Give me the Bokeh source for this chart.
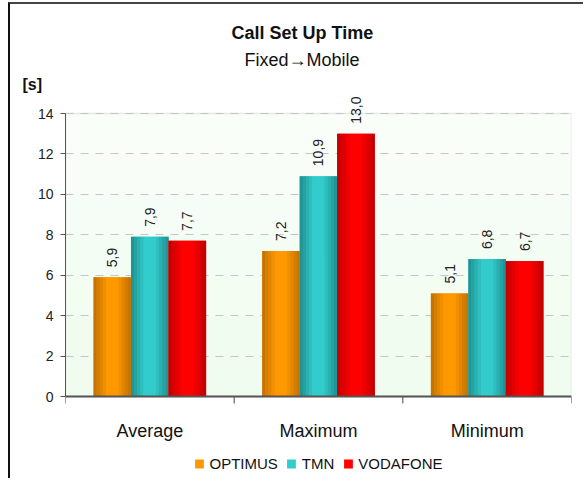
from bokeh.plotting import figure
from bokeh.models import (ColumnDataSource, Range1d, FixedTicker, LabelSet, Title,
                          Legend, LegendItem, BoxAnnotation, Span)
from bokeh.transform import dodge
from bokeh.core.properties import value
from bokeh.embed import file_html
from bokeh.resources import INLINE

# ---- data ----
categories = ["Average", "Maximum", "Minimum"]
series = ["OPTIMUS", "TMN", "VODAFONE"]
optimus = [5.9, 7.2, 5.1]
tmn = [7.9, 10.9, 6.8]
vodafone = [7.7, 13.0, 6.7]
y_ticks = [0, 2, 4, 6, 8, 10, 12, 14]
title_text = "Call Set Up Time"
subtitle_text = "Fixed\u2192Mobile"
unit_text = "[s]"

# ---- styles / layout ----
FONT = "Liberation Sans"
light = ["#ff9900", "#33cccc", "#ff0000"]
dark = ["#bf6f00", "#1e8e8e", "#bf0000"]
BAR_W = 0.2222
N_STRIPS = 12
FRAME_H = 387
Y_TOP = 14.99      # headroom so the tallest value label stays visible
Y_BOTTOM = -4.155  # room under the baseline for category labels and legend
PX_PER_UNIT = FRAME_H / (Y_TOP - Y_BOTTOM)
TICK_LEN = 7 / PX_PER_UNIT


def mix(c1, c2, t):
    a = [int(c1[i:i + 2], 16) for i in (1, 3, 5)]
    b = [int(c2[i:i + 2], 16) for i in (1, 3, 5)]
    return "#" + "".join(f"{int(round(x + (y - x) * t)):02x}" for x, y in zip(a, b))


def profile(u):
    if u < 0.38:
        return u / 0.38
    if u > 0.62:
        return (1 - u) / 0.38
    return 1.0


values = [optimus, tmn, vodafone]
keys = ["optimus", "tmn", "vodafone"]
xc = [i + 0.5 for i in range(len(categories))]
data = {"xc": xc, "cat": categories, "zero": [0] * len(categories)}
for si, (k, vals) in enumerate(zip(keys, values)):
    off = (si - 1) * BAR_W
    data[k] = vals
    data[k + "_x"] = [x + off for x in xc]
    data[k + "_lbl"] = [f"{v:.1f}".replace(".", ",") for v in vals]
src = ColumnDataSource(data)
bounds = list(range(len(categories) + 1))

p = figure(width=575, height=476, title=None, x_axis_location=None,
           min_border_left=55, min_border_right=14, min_border_top=476 - FRAME_H,
           min_border_bottom=0,
           x_range=Range1d(0, len(categories)), y_range=Range1d(Y_BOTTOM, Y_TOP),
           output_backend="svg", toolbar_location=None)
p.styles = {"border-left": "2px solid #111111", "border-top": "2px solid #444444",
            "position": "relative", "left": "8px", "top": "2px"}
p.background_fill_color = "white"
p.border_fill_color = "white"
p.outline_line_color = None

# plot-area background (0..14): soft vertical gradient in bands, grey edge
n_b = len(y_ticks) - 1
for i in range(n_b):
    p.add_layout(BoxAnnotation(bottom=y_ticks[i], top=y_ticks[i + 1],
                               fill_color=mix("#effcee", "#fafefa", (i + 0.5) / n_b),
                               fill_alpha=1, line_color=None, level="image"))
p.add_layout(BoxAnnotation(bottom=y_ticks[0], top=y_ticks[-1], fill_alpha=0,
                           line_color="#b4b4b4", line_width=1.5, level="image"))

# y axis
p.yaxis.ticker = FixedTicker(ticks=y_ticks)
p.yaxis.bounds = (y_ticks[0], y_ticks[-1])
p.yaxis.major_tick_in = 0
p.yaxis.major_tick_out = 5
p.yaxis.minor_tick_line_color = None
p.yaxis.axis_line_color = "#555555"
p.yaxis.major_tick_line_color = "#555555"
p.yaxis.major_label_text_font = FONT
p.yaxis.major_label_text_font_size = "14px"
p.yaxis.major_label_text_color = "#222222"
p.yaxis.major_label_standoff = 7

# grid
p.xgrid.visible = False
p.ygrid.ticker = FixedTicker(ticks=y_ticks[1:])
p.ygrid.grid_line_color = "#c6c6c6"
p.ygrid.grid_line_dash = "8 7"

main_renderers = []
for si, k in enumerate(keys):
    r = p.vbar(x=k + "_x", top=k, width=BAR_W, bottom=0, source=src,
               fill_color=light[si], line_color=None)
    main_renderers.append(r)
    sw = BAR_W / N_STRIPS
    for j in range(N_STRIPS):
        u = (j + 0.5) / N_STRIPS
        col = mix(dark[si], light[si], profile(u))
        p.vbar(x=dodge(k + "_x", -BAR_W / 2 + (j + 0.5) * sw), top=k, bottom=0,
               width=sw * 1.08, source=src, fill_color=col, line_color=None)
    lbl = LabelSet(x=k + "_x", y=k, text=k + "_lbl", source=src, angle=90, angle_units="deg",
                   text_align="left", text_baseline="middle", y_offset=10,
                   text_font=value(FONT), text_font_size=value("14px"),
                   text_color="#222222")
    p.add_layout(lbl)

# category axis: baseline, boundary ticks and labels
p.add_layout(Span(location=0, dimension="width", line_color="#555555", line_width=2))
p.segment(x0=bounds, y0=[0] * len(bounds), x1=bounds, y1=[-TICK_LEN] * len(bounds),
          line_color="#444444", line_width=1)
p.add_layout(LabelSet(x="xc", y="zero", text="cat", source=src, y_offset=-34,
                      text_align="center", text_baseline="middle",
                      text_font=value(FONT), text_font_size=value("18px"),
                      text_color="#111111"))

legend = Legend(items=[LegendItem(label=s, renderers=[r]) for s, r in zip(series, main_renderers)],
                orientation="horizontal", location="bottom_center")
legend.label_text_font = FONT
legend.label_text_font_size = "15px"
legend.label_text_color = "#111111"
legend.label_height = 14
legend.glyph_width = 11
legend.glyph_height = 11
legend.label_standoff = 5
legend.spacing = 8
legend.padding = 0
legend.margin = 8
legend.border_line_color = None
legend.background_fill_alpha = 0
p.add_layout(legend)

# titles: first added sits closest to the plot
p.add_layout(Title(text=unit_text, align="left", offset=-43, text_font=FONT,
                   text_font_size="16px", text_font_style="bold", text_color="#111111",
                   standoff=1), "above")
p.add_layout(Title(text=subtitle_text, align="left", offset=179, text_font=FONT,
                   text_font_size="18px", text_font_style="normal", text_color="#111111",
                   standoff=7), "above")
p.add_layout(Title(text=title_text, align="left", offset=166, text_font=FONT,
                   text_font_size="18px", text_font_style="bold", text_color="#111111",
                   standoff=4), "above")

open("out.html", "w").write(file_html(p, INLINE))
